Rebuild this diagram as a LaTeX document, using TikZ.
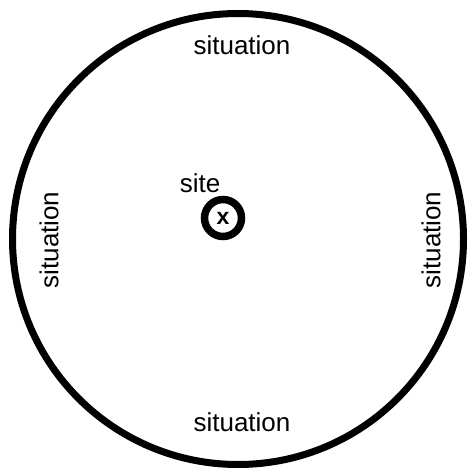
\documentclass[tikz,border=0pt]{standalone}
\usepackage{fontspec}
\setmainfont{Liberation Sans}
\begin{document}
\begin{tikzpicture}[x=1pt,y=1pt,
  lbl/.style={font=\fontsize{26}{30}\selectfont, inner sep=0pt},
  ring/.style={draw=black, line width=7pt}]
\useasboundingbox (0,0) rectangle (468,467);
\clip (0,0) rectangle (468,467);
\fill[white] (0,0) rectangle (468,467);
\node[ring, circle, minimum size=451pt, inner sep=0pt] (big) at (238,228) {};
\node[ring, line width=7.5pt, circle, minimum size=37pt, inner sep=0pt, font=\bfseries\fontsize{23}{26}\selectfont] (x) at (223,249) {x};
\node[lbl, anchor=base] (site) at (200,275) {site};
\node[lbl] (top) at (242,422) {situation};
\node[lbl] (bottom) at (242,45) {situation};
\node[lbl, rotate=90] (left) at (49,227) {situation};
\node[lbl, rotate=90] (right) at (431,227) {situation};
\end{tikzpicture}
\end{document}
